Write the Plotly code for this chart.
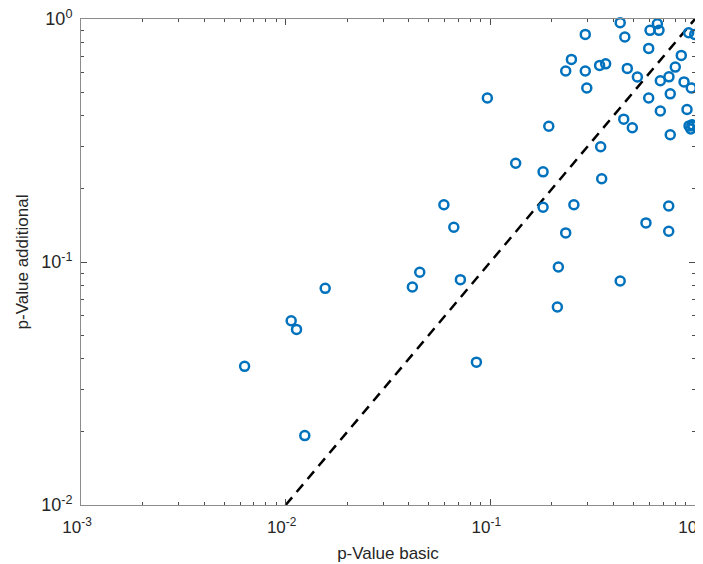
import plotly.graph_objects as go

p_basic = [0.431, 0.655, 0.291, 0.454, 0.603, 0.667, 0.931, 0.997, 0.594, 0.857,
           0.249, 0.2335, 0.291, 0.342, 0.366, 0.467, 0.523, 0.801, 0.677, 0.746,
           0.884, 0.959, 0.296, 0.594, 0.757, 0.677, 0.914, 0.4485, 0.494, 0.757,
           0.935, 0.954, 0.977, 0.966, 0.346, 0.0967, 0.193, 0.133, 0.181, 0.350,
           0.0593, 0.0663, 0.181, 0.256, 0.2335, 0.576, 0.744, 0.744, 0.215, 0.431,
           0.0714, 0.2126, 0.0855, 0.0156, 0.01064, 0.0113, 0.0063, 0.0124, 0.0416, 0.0452]
p_additional = [0.966, 0.956, 0.864, 0.843, 0.898, 0.898, 0.878, 0.864, 0.757, 0.708,
                0.682, 0.611, 0.611, 0.644, 0.654, 0.626, 0.577, 0.634, 0.557, 0.578,
                0.551, 0.520, 0.520, 0.473, 0.492, 0.418, 0.424, 0.387, 0.357, 0.334,
                0.363, 0.353, 0.363, 0.367, 0.298, 0.473, 0.362, 0.255, 0.235, 0.220,
                0.172, 0.139, 0.168, 0.172, 0.1317, 0.1448, 0.170, 0.1338, 0.0954, 0.0835,
                0.0846, 0.0653, 0.0387, 0.0779, 0.0573, 0.0528, 0.0372, 0.0193, 0.0789, 0.0907]

ref_line = [0.01, 1.0]
x_tickvals = [0.001, 0.01, 0.1, 1]
x_ticktext = ["10<sup>-3</sup>", "10<sup>-2</sup>", "10<sup>-1</sup>", "10<sup>0</sup>"]
y_tickvals = [0.01, 0.1, 1]
y_ticktext = ["10<sup>-2</sup>", "10<sup>-1</sup>", "10<sup>0</sup>"]

x_minor = [m * 10.0 ** k for k in (-3, -2, -1) for m in range(2, 10)]
y_minor = [m * 10.0 ** k for k in (-2, -1) for m in range(2, 10)]

FONT = "Liberation Sans, Arial, sans-serif"

fig = go.Figure()
fig.add_trace(go.Scatter(
    x=ref_line, y=ref_line, mode="lines",
    line=dict(color="black", width=2.5, dash="10px,7px"),
    showlegend=False, hoverinfo="skip"))
fig.add_trace(go.Scatter(
    x=p_basic, y=p_additional, mode="markers",
    marker=dict(symbol="circle-open", size=9, color="#0072BD", line=dict(width=2.5, color="#0072BD")),
    showlegend=False, cliponaxis=False))

def axis(minor_vals, standoff, fsize):
    return dict(
        type="log", showgrid=False, zeroline=False, automargin=False,
        showline=True, linecolor="#8c8c8c", linewidth=1, mirror="allticks",
        ticks="inside", ticklen=6, tickcolor="#4d4d4d", tickwidth=1,
        ticklabelstandoff=standoff, ticklabeloverflow="allow",
        minor=dict(tickmode="array", tickvals=minor_vals, ticks="inside", ticklen=3,
                   tickcolor="#4d4d4d", tickwidth=1, showgrid=False),
        tickfont=dict(family=FONT, size=fsize, color="#262626"),
    )

fig.update_layout(
    width=703, height=564,
    margin=dict(l=73, r=16, t=11, b=67),
    paper_bgcolor="white", plot_bgcolor="white",
    xaxis=dict(range=[-3, 0], tickvals=x_tickvals, ticktext=x_ticktext,
               ticklabelshift=-4,
               title=dict(text="p-Value basic", standoff=10,
                          font=dict(family=FONT, size=17, color="#262626")),
               **axis(x_minor, 7, 17)),
    yaxis=dict(range=[-2, 0], tickvals=y_tickvals, ticktext=y_ticktext,
               title=dict(text="p-Value additional", standoff=8,
                          font=dict(family=FONT, size=17, color="#262626")),
               **axis(y_minor, 4, 18)),
)

fig.write_html("out.html")
